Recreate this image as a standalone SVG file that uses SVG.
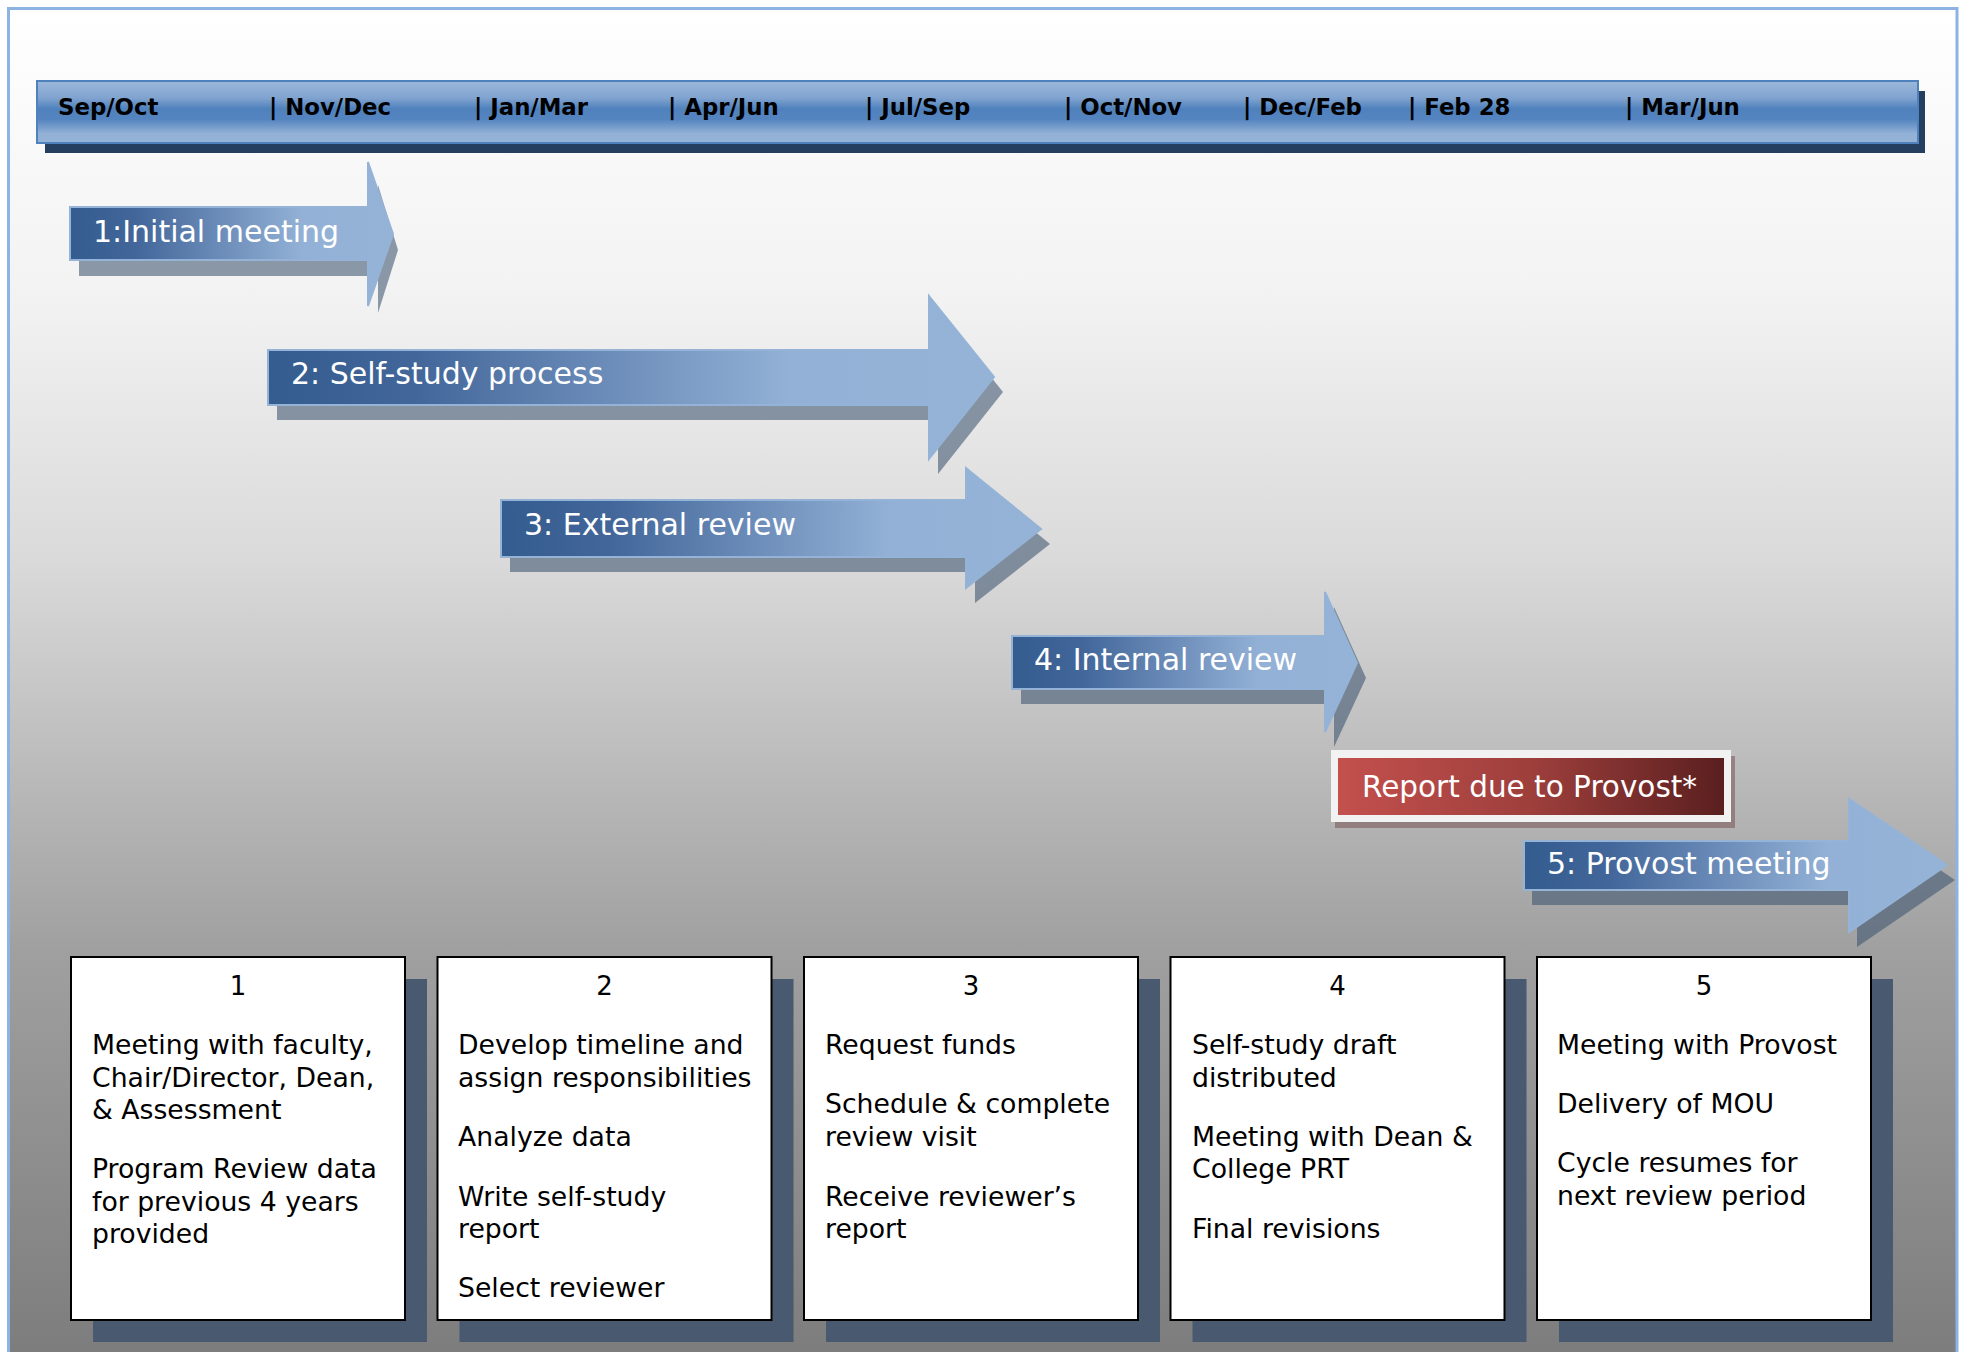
<svg xmlns="http://www.w3.org/2000/svg" width="1961" height="1352" viewBox="0 0 1961 1352">
<defs>
<linearGradient id="bg" x1="0" y1="8" x2="0" y2="1352" gradientUnits="userSpaceOnUse">
<stop offset="0" stop-color="#FFFFFF"/>
<stop offset="0.217" stop-color="#F2F2F2"/>
<stop offset="0.41" stop-color="#DADADA"/>
<stop offset="0.70" stop-color="#A0A0A0"/>
<stop offset="1" stop-color="#7D7D7D"/>
</linearGradient>
<linearGradient id="bar" x1="0" y1="0" x2="0" y2="1">
<stop offset="0" stop-color="#9DB9DB"/>
<stop offset="0.28" stop-color="#7FA2CF"/>
<stop offset="0.45" stop-color="#4F81BD"/>
<stop offset="0.62" stop-color="#5585C0"/>
<stop offset="0.85" stop-color="#93B1D6"/>
<stop offset="1" stop-color="#95B3D7"/>
</linearGradient>
<linearGradient id="arr" x1="0" y1="0" x2="1" y2="0">
<stop offset="0" stop-color="#345C8E"/>
<stop offset="0.2" stop-color="#42669A"/>
<stop offset="0.72" stop-color="#93B1D6"/>
<stop offset="1" stop-color="#95B3D7"/>
</linearGradient>
<linearGradient id="red" x1="0" y1="0" x2="1" y2="0">
<stop offset="0" stop-color="#C3504D"/>
<stop offset="0.5" stop-color="#9E3F3C"/>
<stop offset="1" stop-color="#5A1F1F"/>
</linearGradient>
<style>
.hdr{font-family:"DejaVu Sans","Liberation Sans",sans-serif;font-weight:bold;font-size:22.8px;fill:#000}
.arrow{fill:url(#arr);stroke:#95B3D7;stroke-width:2}
.ashadow{fill:#3D546F;fill-opacity:0.58}
.atext{font-family:"DejaVu Sans","Liberation Sans",sans-serif;font-size:30px;fill:#FFFFFF}
.box{fill:#FFFFFF;stroke:#000;stroke-width:2}
.bshadow{fill:#485970}
.btext{font-family:"DejaVu Sans","Liberation Sans",sans-serif;font-size:26.7px;fill:#000}
.num{font-family:"DejaVu Sans","Liberation Sans",sans-serif;font-size:26px;fill:#000;text-anchor:middle}
</style>
</defs>

<rect x="8.5" y="8.5" width="1948.5" height="1400" fill="url(#bg)" stroke="#8DB3E2" stroke-width="3"/>

<g id="timeline">
<rect x="45" y="91" width="1880" height="62" fill="#243F60"/>
<rect x="37" y="81" width="1881" height="62" fill="url(#bar)" stroke="#4F81BD" stroke-width="2"/>
<text class="hdr" x="58" y="115">Sep/Oct</text>
<text class="hdr" x="269" y="115">| Nov/Dec</text>
<text class="hdr" x="474" y="115">| Jan/Mar</text>
<text class="hdr" x="668" y="115">| Apr/Jun</text>
<text class="hdr" x="865" y="115">| Jul/Sep</text>
<text class="hdr" x="1064" y="115">| Oct/Nov</text>
<text class="hdr" x="1243" y="115">| Dec/Feb</text>
<text class="hdr" x="1408" y="115">| Feb 28</text>
<text class="hdr" x="1625" y="115">| Mar/Jun</text>
</g>

<g id="arrow1">
<polygon class="ashadow" points="79,221 378,221 378,185 398,250 378,313 378,276 79,276"/>
<polygon class="arrow" points="70,207 368,207 368,162 393,234 368,306 368,260 70,260"/>
<text class="atext" x="93" y="242">1:Initial meeting</text>
</g>

<g id="arrow2">
<polygon class="ashadow" transform="translate(9,15)" points="268,350 929,350 929,296 994,377 929,459 929,405 268,405"/>
<polygon class="arrow" points="268,350 929,350 929,296 994,377 929,459 929,405 268,405"/>
<text class="atext" x="291" y="384">2: Self-study process</text>
</g>

<g id="arrow3">
<polygon class="ashadow" transform="translate(9,15)" points="501,500 966,500 966,468 1041,529 966,588 966,557 501,557"/>
<polygon class="arrow" points="501,500 966,500 966,468 1041,529 966,588 966,557 501,557"/>
<text class="atext" x="524" y="535">3: External review</text>
</g>

<g id="arrow4">
<polygon class="ashadow" transform="translate(9,15)" points="1012,636 1325,636 1325,592 1357,663 1325,732 1325,689 1012,689"/>
<polygon class="arrow" points="1012,636 1325,636 1325,592 1357,663 1325,732 1325,689 1012,689"/>
<text class="atext" x="1034" y="670">4: Internal review</text>
</g>

<g id="report">
<rect x="1335" y="756" width="400" height="72" fill="#6B3F3F" fill-opacity="0.45"/>
<rect x="1331" y="750" width="400" height="72" fill="#F2F2F2"/>
<rect x="1338" y="758" width="386" height="57" fill="url(#red)"/>
<text class="atext" x="1362" y="797" style="font-size:29.5px">Report due to Provost*</text>
</g>

<g id="arrow5">
<polygon class="ashadow" transform="translate(8,15)" points="1524,841 1849,841 1849,799 1947,865 1849,932 1849,890 1524,890"/>
<polygon class="arrow" points="1524,841 1849,841 1849,799 1947,865 1849,932 1849,890 1524,890"/>
<text class="atext" x="1547" y="874">5: Provost meeting</text>
</g>

<g id="box1">
<rect class="bshadow" x="93" y="979" width="334" height="363"/>
<rect class="box" x="71" y="957" width="334" height="363"/>
<text class="num" x="238" y="995">1</text>
<text class="btext" x="92" y="1054">Meeting with faculty,</text>
<text class="btext" x="92" y="1086.5">Chair/Director, Dean,</text>
<text class="btext" x="92" y="1119">&amp; Assessment</text>
<text class="btext" x="92" y="1178">Program Review data</text>
<text class="btext" x="92" y="1210.5">for previous 4 years</text>
<text class="btext" x="92" y="1243">provided</text>
</g>

<g id="box2">
<rect class="bshadow" x="459.5" y="979" width="334" height="363"/>
<rect class="box" x="437.5" y="957" width="334" height="363"/>
<text class="num" x="604.5" y="995">2</text>
<text class="btext" x="458" y="1054">Develop timeline and</text>
<text class="btext" x="458" y="1086.5">assign responsibilities</text>
<text class="btext" x="458" y="1145.5">Analyze data</text>
<text class="btext" x="458" y="1206">Write self-study</text>
<text class="btext" x="458" y="1238">report</text>
<text class="btext" x="458" y="1297">Select reviewer</text>
</g>

<g id="box3">
<rect class="bshadow" x="826" y="979" width="334" height="363"/>
<rect class="box" x="804" y="957" width="334" height="363"/>
<text class="num" x="971" y="995">3</text>
<text class="btext" x="825" y="1054">Request funds</text>
<text class="btext" x="825" y="1113">Schedule &amp; complete</text>
<text class="btext" x="825" y="1145.5">review visit</text>
<text class="btext" x="825" y="1206">Receive reviewer’s</text>
<text class="btext" x="825" y="1238">report</text>
</g>

<g id="box4">
<rect class="bshadow" x="1192.5" y="979" width="334" height="363"/>
<rect class="box" x="1170.5" y="957" width="334" height="363"/>
<text class="num" x="1337.5" y="995">4</text>
<text class="btext" x="1192" y="1054">Self-study draft</text>
<text class="btext" x="1192" y="1086.5">distributed</text>
<text class="btext" x="1192" y="1145.5">Meeting with Dean &amp;</text>
<text class="btext" x="1192" y="1178">College PRT</text>
<text class="btext" x="1192" y="1238">Final revisions</text>
</g>

<g id="box5">
<rect class="bshadow" x="1559" y="979" width="334" height="363"/>
<rect class="box" x="1537" y="957" width="334" height="363"/>
<text class="num" x="1704" y="995">5</text>
<text class="btext" x="1557" y="1054">Meeting with Provost</text>
<text class="btext" x="1557" y="1113">Delivery of MOU</text>
<text class="btext" x="1557" y="1172">Cycle resumes for</text>
<text class="btext" x="1557" y="1205">next review period</text>
</g>

<g id="connectors"></g>
</svg>
